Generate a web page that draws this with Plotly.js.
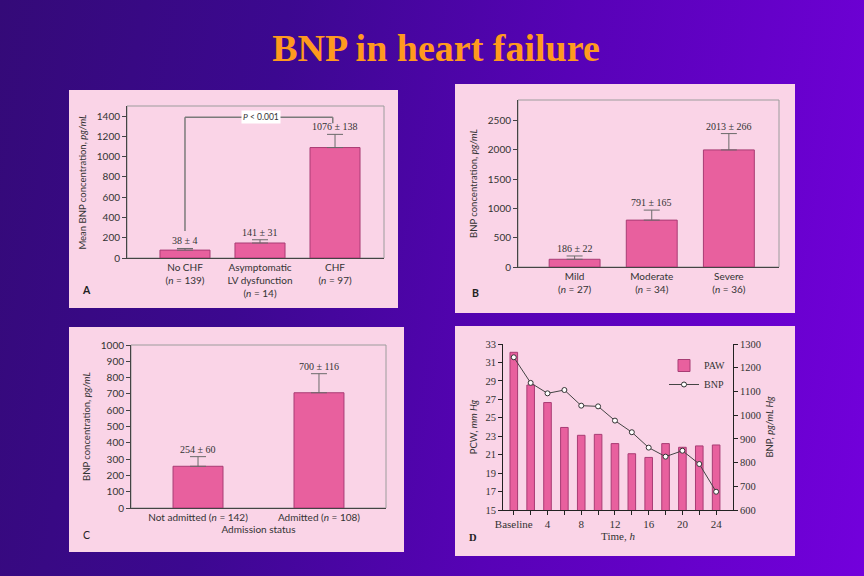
<!DOCTYPE html>
<html><head><meta charset="utf-8">
<script src="https://cdn.plot.ly/plotly-3.0.1.min.js"></script>
<style>
html,body{margin:0;padding:0;}
#chart{width:864px;height:576px;background:linear-gradient(100deg,#340a78 0%,#3c0890 30%,#5702b6 60%,#7300dc 100%);}
</style></head><body><div id="chart"></div>
<script>
// ---- Panel A ----
const aCats = ['No CHF', 'Asymptomatic<br>LV dysfunction', 'CHF'];
const aN = [139, 14, 97];
const aMean = [78, 148, 1090];
const aErr = [16, 32, 130];
const aText = ['38 ± 4', '141 ± 31', '1076 ± 138'];
// ---- Panel B ----
const bCats = ['Mild', 'Moderate', 'Severe'];
const bN = [27, 34, 36];
const bMean = [132, 800, 1998];
const bErr = [56, 171, 279];
const bText = ['186 ± 22', '791 ± 165', '2013 ± 266'];
// ---- Panel C ----
const cCats = ['Not admitted', 'Admitted'];
const cN = [142, 108];
const cMean = [256, 707];
const cErr = [59, 117];
const cText = ['254 ± 60', '700 ± 116'];
// ---- Panel D ----
const dHours = [0, 2, 4, 6, 8, 10, 12, 14, 16, 18, 20, 22, 24];
const dPaw = [32.1, 28.55, 26.65, 23.95, 23.1, 23.2, 22.2, 21.1, 20.7, 22.2, 21.8, 21.95, 22.05];
const dBnp = [1244, 1136, 1092, 1106, 1040, 1037, 977, 928, 863, 825, 850, 794, 677];

const W = 864, H = 576;
const px = v => v / W, py = v => 1 - v / H;

const SANS = 'Lato, "Open Sans", "DejaVu Sans", sans-serif';
const SERIF = '"Liberation Serif", "Times New Roman", serif';
const INK = '#333333';
const BAR = '#e8609e', BAR_EDGE = '#a83c74';

function idx(arr) { return arr.map((_, i) => i); }
function nLabel(cats, ns, sep) { return cats.map((c, i) => c + sep + '(<i>n</i> = ' + ns[i] + ')'); }

function barTrace(cats, mean, err, xa, ya, width) {
  return {
    type: 'bar', x: idx(cats), y: mean, xaxis: xa, yaxis: ya, width: width,
    marker: {color: BAR, line: {color: BAR_EDGE, width: 1}},
    error_y: {type: 'data', symmetric: false, array: err, arrayminus: err.map(() => 0),
              color: '#6a6a6a', thickness: 1, width: 8},
    showlegend: false, hoverinfo: 'skip'
  };
}

const traces = [
  barTrace(aCats, aMean, aErr, 'x', 'y', 0.667),
  barTrace(bCats, bMean, bErr, 'x2', 'y2', 0.66),
  barTrace(cCats, cMean, cErr, 'x3', 'y3', 0.413),
  {type: 'bar', name: 'PAW', x: dHours, y: dPaw, xaxis: 'x4', yaxis: 'y4', width: 0.9,
   marker: {color: BAR, line: {color: BAR_EDGE, width: 1}}, hoverinfo: 'skip'},
  {type: 'scatter', mode: 'lines+markers', name: 'BNP', x: dHours, y: dBnp, xaxis: 'x4', yaxis: 'y5',
   line: {color: '#444', width: 1},
   marker: {symbol: 'circle', size: 5, color: 'white', line: {color: '#333', width: 1}}, hoverinfo: 'skip'}
];

const tickFont = {family: SANS, size: 10, color: INK};
const serifTick = {family: SERIF, size: 10.5, color: INK};
const titleFont = {family: SANS, size: 9.5, color: INK};

function yAx(dom, range, dtick, title, extra) {
  return Object.assign({
    domain: dom, range: range, dtick: dtick, showgrid: false, zeroline: false,
    showline: true, linecolor: '#444', linewidth: 1, ticks: 'outside', ticklen: 4, tickcolor: '#444',
    tickfont: tickFont, title: {text: title, font: titleFont, standoff: 8}, fixedrange: true
  }, extra || {});
}
function xAx(dom, range, cats, labels, extra) {
  return Object.assign({
    domain: dom, range: range, tickvals: idx(cats), ticktext: labels, showgrid: false, zeroline: false,
    showline: true, linecolor: '#444', linewidth: 1, ticks: '', tickfont: tickFont, fixedrange: true
  }, extra || {});
}

const layout = {
  width: W, height: H,
  margin: {l: 0, r: 0, t: 0, b: 0},
  paper_bgcolor: 'rgba(0,0,0,0)', plot_bgcolor: 'white',
  bargap: 0,
  title: {text: '<b>BNP in heart failure</b>', font: {family: SERIF, size: 38, color: '#ff9a1e'},
          x: px(436), xanchor: 'center', y: py(48), yanchor: 'middle', xref: 'paper', yref: 'paper'},
  xaxis: xAx([px(127), px(384)], [-0.773, 2.653], aCats, nLabel(aCats, aN, '<br>'), {anchor: 'y'}),
  yaxis: yAx([py(258), py(106)], [0, 1500], 200, 'Mean BNP concentration, <i>pg/mL</i>', {anchor: 'x'}),
  xaxis2: xAx([px(518), px(779)], [-0.734, 2.65], bCats, nLabel(bCats, bN, '<br>'), {anchor: 'y2'}),
  yaxis2: yAx([py(267), py(100)], [0, 2850], 500, 'BNP concentration, <i>pg/mL</i>', {anchor: 'x2'}),
  xaxis3: xAx([px(131), px(386)], [-0.554, 1.554], cCats, nLabel(cCats, cN, ' '),
              {anchor: 'y3', title: {text: 'Admission status', font: {family: SANS, size: 10, color: INK}, standoff: 3}}),
  yaxis3: yAx([py(508), py(345)], [0, 1000], 100, 'BNP concentration, <i>pg/mL</i>', {anchor: 'x3'}),
  xaxis4: {domain: [px(503), px(733)], range: [-1.28, 26.0], anchor: 'y4',
           tickvals: dHours, ticktext: dHours.map(h => h === 0 ? 'Baseline' : (h % 4 === 0 ? String(h) : '')),
           ticks: 'outside', ticklen: 4, tickcolor: '#222', showline: true, linecolor: '#222', linewidth: 1,
           showgrid: false, zeroline: false, tickfont: {family: SERIF, size: 11, color: INK}, fixedrange: true,
           title: {text: 'Time, <i>h</i>', font: {family: SERIF, size: 11, color: INK}, standoff: 2}},
  yaxis4: {domain: [py(510), py(344)], range: [15, 33], tick0: 15, dtick: 2, anchor: 'x4',
           ticks: 'outside', ticklen: 4, tickcolor: '#222', showline: true, linecolor: '#222', linewidth: 1,
           showgrid: false, zeroline: false, tickfont: serifTick, fixedrange: true,
           title: {text: 'PCW, <i>mm Hg</i>', font: titleFont, standoff: 6}},
  yaxis5: {overlaying: 'y4', side: 'right', anchor: 'x4', range: [600, 1300], tick0: 600, dtick: 100,
           ticks: 'outside', ticklen: 4, tickcolor: '#222', showline: true, linecolor: '#222', linewidth: 1,
           showgrid: false, zeroline: false, tickfont: serifTick, fixedrange: true,
           title: {text: 'BNP, <i>pg/mL Hg</i>', font: titleFont, standoff: 6}},
  showlegend: true,
  legend: {x: px(664), y: py(351), xanchor: 'left', yanchor: 'top', bgcolor: 'rgba(0,0,0,0)',
           font: {family: SERIF, size: 10, color: INK}, tracegroupgap: 0, itemwidth: 30},
  shapes: [],
  annotations: []
};

// pink panels
[[69, 90, 398, 308], [455, 84, 795, 313], [69, 327, 404, 552], [455, 326, 795, 556]].forEach(r => {
  layout.shapes.push({type: 'rect', xref: 'paper', yref: 'paper', x0: px(r[0]), x1: px(r[2]), y0: py(r[3]), y1: py(r[1]),
                      fillcolor: '#fad4e7', line: {width: 0}, layer: 'below'});
});
// light frames for A, B, C
[['x', 'y'], ['x2', 'y2'], ['x3', 'y3']].forEach(a => {
  layout.shapes.push({type: 'rect', xref: a[0] + ' domain', yref: a[1] + ' domain', x0: 0, x1: 1, y0: 0, y1: 1,
                      line: {color: '#9c9c9c', width: 1}, layer: 'below'});
});
// significance bracket in A
const brY = 1390, brL = 266, brR = 1331, brX1 = 1.97;
const brLine = {color: '#7a7a7a', width: 1.5};
layout.shapes.push({type: 'line', xref: 'x', yref: 'y', x0: 0, x1: 0, y0: brL, y1: brY, line: brLine});
layout.shapes.push({type: 'line', xref: 'x', yref: 'y', x0: 0, x1: brX1, y0: brY, y1: brY, line: brLine});
layout.shapes.push({type: 'line', xref: 'x', yref: 'y', x0: brX1, x1: brX1, y0: brY, y1: brR, line: brLine});
layout.annotations.push({xref: 'x', yref: 'y', x: 1.01, y: brY, text: '<i>P</i> &lt; 0.001', showarrow: false,
                         bgcolor: 'white', borderpad: 1, font: {family: SANS, size: 8.5, color: INK}});

// value labels
function valueLabels(text, mean, err, xa, ya) {
  text.forEach((t, i) => layout.annotations.push({
    xref: xa, yref: ya, x: i, y: mean[i] + err[i], text: t, showarrow: false, yanchor: 'bottom', yshift: 0,
    font: {family: SERIF, size: 10, color: INK}
  }));
}
valueLabels(aText, aMean, aErr, 'x', 'y');
valueLabels(bText, bMean, bErr, 'x2', 'y2');
valueLabels(cText, cMean, cErr, 'x3', 'y3');

// panel letters
[['A', 86, 290, true, SANS], ['B', 475, 293, true, SANS], ['C', 86, 535, false, SANS], ['D', 473, 537, true, SERIF]]
  .forEach(l => layout.annotations.push({xref: 'paper', yref: 'paper', x: px(l[1]), y: py(l[2]),
    text: l[3] ? '<b>' + l[0] + '</b>' : l[0], showarrow: false, xanchor: 'center', yanchor: 'middle',
    font: {family: l[4], size: 10.5, color: '#222'}}));

Plotly.newPlot('chart', traces, layout, {staticPlot: true, displayModeBar: false});
</script></body></html>
